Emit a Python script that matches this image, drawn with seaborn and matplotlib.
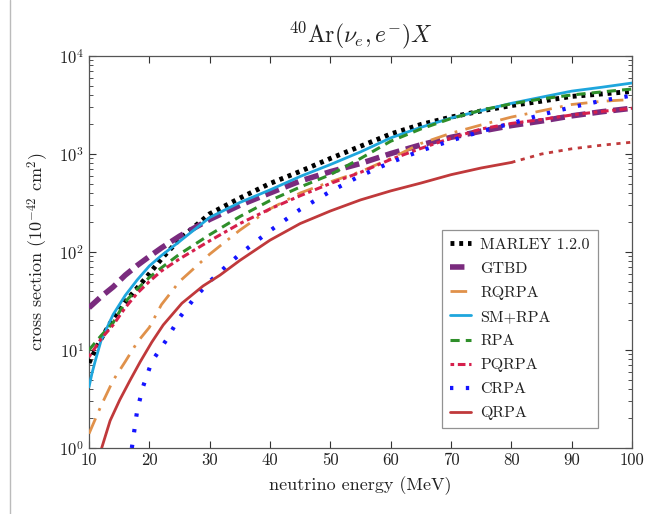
import numpy as np
import pandas as pd
import matplotlib
matplotlib.use("Agg")
import matplotlib.pyplot as plt
import seaborn as sns
from matplotlib.lines import Line2D

# ---------------- data ----------------
E_main = [10, 12, 14, 16, 18, 20, 22, 25, 30, 35, 40, 45, 50, 55, 60, 65, 70, 75, 80, 85, 90, 95, 100]

marley = [7.4, 13, 21, 31, 43, 60, 85, 135, 245, 355, 500, 665, 900, 1200, 1600, 2000, 2380, 2750, 3120, 3460, 3870, 4100, 4350]
gtbd   = [27, 35, 44, 58, 73, 90, 110, 145, 215, 300, 400, 530, 660, 800, 1010, 1240, 1480, 1710, 1950, 2170, 2450, 2700, 2930]
rqrpa  = [1.4, 2.7, 4.9, 7.6, 12, 17, 29, 50, 95, 167, 275, 400, 520, 660, 900, 1280, 1630, 1980, 2380, 2760, 3200, 3450, 3600]
rpa    = [10, 14, 19, 31, 42, 55, 69, 95, 150, 230, 335, 460, 615, 900, 1350, 1800, 2300, 2800, 3250, 3650, 4000, 4300, 4600]
pqrpa  = [8.5, 13, 18, 27, 38, 50, 64, 85, 130, 195, 275, 375, 500, 650, 880, 1140, 1450, 1800, 2050, 2250, 2500, 2720, 2930]

E_smrpa = [10, 10.5, 11, 12, 14, 16, 18, 20, 22, 25, 30, 35, 40, 45, 50, 55, 60, 65, 70, 75, 80, 85, 90, 95, 100]
smrpa   = [4.2, 5.8, 7.6, 12.5, 23, 36, 52, 72, 92, 128, 225, 320, 430, 590, 780, 1050, 1460, 1870, 2330, 2770, 3290, 3800, 4380, 4800, 5300]

E_crpa = [17.1, 18, 19, 20.4, 22.8, 24.9, 27.5, 30.3, 33.4, 35, 40, 45, 50, 55, 60, 65, 70, 75, 80, 85, 90, 95, 100]
crpa   = [1.0, 2.45, 4.3, 7.6, 12.6, 21, 34, 52, 78, 95, 165, 272, 415, 600, 820, 1080, 1370, 1700, 2050, 2520, 3000, 3500, 3950]

E_qrpa = [12.1, 13.5, 15.1, 16.8, 18.5, 20.4, 22.3, 25.4, 28.9, 31.7, 35, 40, 45, 50, 55, 60, 65, 70, 75, 80]
qrpa   = [1.0, 1.9, 3.1, 4.9, 7.6, 12.0, 18, 30, 45, 58, 82, 132, 195, 262, 340, 420, 505, 615, 720, 820]

E_qrpa_ext = [80, 85, 90, 95, 100]
qrpa_ext   = [820, 1000, 1130, 1230, 1320]

labels = ["MARLEY 1.2.0", "GTBD", "RQRPA", "SM+RPA", "RPA", "PQRPA", "CRPA", "QRPA"]
x_ticks = [10, 20, 30, 40, 50, 60, 70, 80, 90, 100]

# ---------------- style ----------------
sns.set_style("ticks")
plt.rcParams["font.family"] = "serif"
plt.rcParams["font.serif"] = ["cmr10", "DejaVu Serif"]
plt.rcParams["mathtext.fontset"] = "cm"
plt.rcParams["axes.formatter.use_mathtext"] = True
plt.rcParams["axes.unicode_minus"] = False

fig = plt.figure(figsize=(6.64, 5.14), dpi=100)
ax = fig.add_axes([89/664, 1-448/514, (632-89)/664, (448-56)/514])

styles = {
    "MARLEY 1.2.0": dict(color="black", lw=3.5, ls=(0, (0.8, 1.0))),
    "GTBD": dict(color="#7a2b7e", lw=4.0, ls=(0, (2.6, 1.2))),
    "RQRPA": dict(color="#e0914a", lw=2.0, ls=(0, (6, 3, 1, 3))),
    "SM+RPA": dict(color="#1ea6dd", lw=2.0, ls="-"),
    "RPA": dict(color="#2f8f2a", lw=2.2, ls=(0, (3, 2))),
    "PQRPA": dict(color="#d61f4c", lw=2.2, ls=(0, (1.2, 1.2, 2.5, 1.2))),
    "CRPA": dict(color="#1414ff", lw=3.0, ls=(0, (0.8, 3.0))),
    "QRPA": dict(color="#c0393b", lw=2.0, ls="-"),
}

series = [
    ("MARLEY 1.2.0", E_main, marley),
    ("GTBD", E_main, gtbd),
    ("RQRPA", E_main, rqrpa),
    ("SM+RPA", E_smrpa, smrpa),
    ("RPA", E_main, rpa),
    ("PQRPA", E_main, pqrpa),
    ("CRPA", E_crpa, crpa),
    ("QRPA", E_qrpa, qrpa),
]

handles = []
for name, xs, ys in series:
    st = styles[name]
    df = pd.DataFrame({"E": xs, "sigma": ys})
    sns.lineplot(data=df, x="E", y="sigma", ax=ax, color=st["color"],
                 linewidth=st["lw"], linestyle=st["ls"], legend=False,
                 zorder=3)
    handles.append(Line2D([], [], color=st["color"], lw=st["lw"], ls=st["ls"], label=name))

# QRPA extrapolation (dotted, no legend entry)
df_ext = pd.DataFrame({"E": E_qrpa_ext, "sigma": qrpa_ext})
sns.lineplot(data=df_ext, x="E", y="sigma", ax=ax, color=styles["QRPA"]["color"],
             linewidth=2.0, linestyle=(0, (1.5, 2.0)), legend=False, zorder=3)

ax.set_yscale("log")
ax.set_xlim(10, 100)
ax.set_ylim(1, 1e4)
ax.set_xticks(x_ticks)
ax.set_xticklabels([str(t) for t in x_ticks])
ax.tick_params(axis="both", which="both", direction="in", top=True, right=True,
               labelsize=12, colors="#333333", labelcolor="#222222")
ax.tick_params(axis="both", which="major", length=5, width=0.8)
ax.tick_params(axis="both", which="minor", length=3, width=0.6)
for sp in ax.spines.values():
    sp.set_color("#555555")
    sp.set_linewidth(0.9)

ax.set_xlabel("neutrino energy (MeV)", fontsize=13, color="#222222", labelpad=6)
ax.set_ylabel(r"cross section ($10^{-42}$ cm$^2$)", fontsize=13, color="#222222", labelpad=6)
ax.set_title(r"$^{40}\mathrm{Ar}(\nu_e, e^{-})X$", fontsize=17, color="#222222", pad=10)

leg = ax.legend(handles=handles, loc="lower right", bbox_to_anchor=(0.937, 0.05),
                fontsize=11.5, frameon=True, fancybox=False, edgecolor="#777777",
                handlelength=1.3, handletextpad=0.6, labelspacing=0.62,
                borderpad=0.5, borderaxespad=0.0)
leg.get_frame().set_linewidth(0.9)
for t in leg.get_texts():
    t.set_color("#222222")

# thin page border on the left, as in the reference
fig.add_artist(Line2D([10/664, 10/664], [0, 1], color="#bbbbbb", lw=1.0))

fig.savefig("out.png", dpi=100)
